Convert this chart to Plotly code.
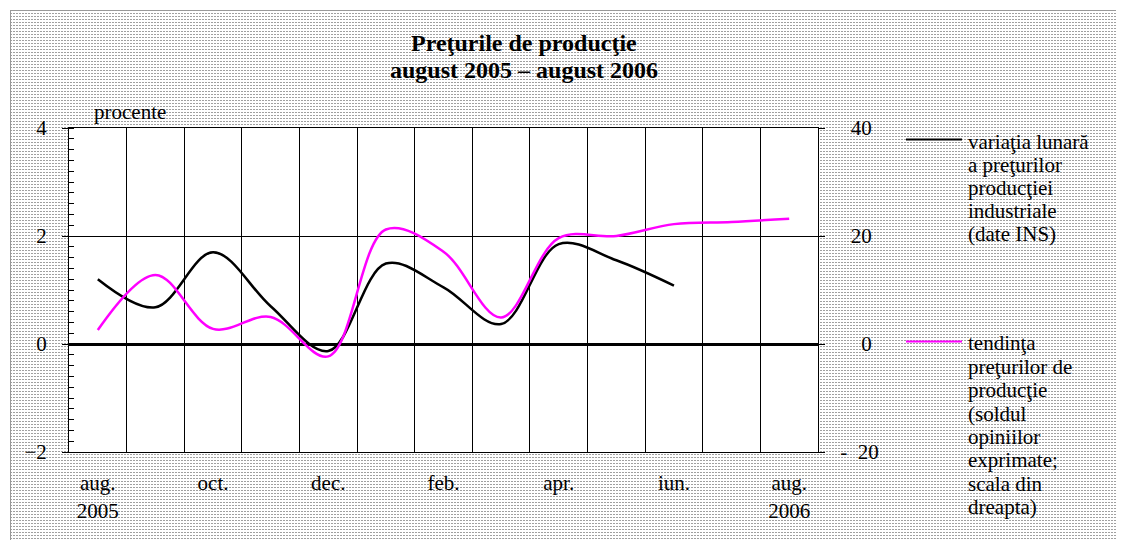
import base64
import plotly.graph_objects as go

# ---- data ----
months = ["aug.<br>2005", "", "oct.", "", "dec.", "", "feb.", "", "apr.", "", "iun.", "", "aug.<br>2006"]
x_idx = list(range(13))
variatia_lunara = [1.2, 0.68, 1.70, 0.70, -0.13, 1.49, 1.05, 0.37, 1.85, 1.55, 1.08]
tendinta = [2.6, 12.8, 2.8, 5.0, -2.3, 21.2, 17.1, 4.9, 19.6, 20.0, 22.2, 22.6, 23.2]
left_ticks = [-2, 0, 2, 4]
right_ticks = [-20, 0, 20, 40]
right_ticktext = ["-\u200720", "\u2007\u20070", "\u200720", "\u200740"]
legend1_lines = ["variaţia lunară", "a preţurilor", "producţiei", "industriale", "(date INS)"]
legend2_lines = ["tendinţa", "preţurilor de", "producţie", "(soldul", "opiniilor",
                 "exprimate;", "scala din", "dreapta)"]
title_lines = ["Preţurile de producţie", "august 2005 – august 2006"]

OFF = 8  # page body margin
W, H = 1124 - OFF, 540 - OFF
# plot area in page pixels
L, R, T, B = 69, 818, 128, 452
PW, PH = R - L, B - T
FONT = "Liberation Serif"


def px_x(p):
    return (p - L) / PW


def px_y(p):
    return (B - p) / PH


# ---- dotted background as inline svg ----
bw, bh = 1112, 535
svg = (
    f'<svg xmlns="http://www.w3.org/2000/svg" width="{bw}" height="{bh}">'
    '<defs><pattern id="p" width="3" height="3" patternUnits="userSpaceOnUse">'
    '<rect x="0" y="0" width="2" height="1" fill="#a0a0a0"/></pattern></defs>'
    '<rect width="100%" height="100%" fill="white"/>'
    '<rect width="100%" height="100%" fill="url(#p)"/>'
    f'<rect x="0.5" y="0.5" width="{bw-1}" height="{bh-1}" fill="none" stroke="#999"/>'
    '</svg>'
)
src = "data:image/svg+xml;base64," + base64.b64encode(svg.encode()).decode()

fig = go.Figure()
fig.add_trace(go.Scatter(
    x=x_idx[:len(variatia_lunara)], y=variatia_lunara, mode="lines",
    line=dict(color="black", width=2.5, shape="spline", smoothing=1.0),
    name="variaţia lunară", showlegend=False, yaxis="y"))
fig.add_trace(go.Scatter(
    x=x_idx, y=tendinta, mode="lines",
    line=dict(color="#FF00FF", width=2.5, shape="spline", smoothing=1.0),
    name="tendinţa", showlegend=False, yaxis="y2"))

annotations = []
for i, (t, py) in enumerate(zip(title_lines, [43, 70])):
    annotations.append(dict(text=f"<b>{t}</b>", x=px_x(524), y=px_y(py), xref="paper", yref="paper",
                            xanchor="center", yanchor="middle", showarrow=False,
                            font=dict(family=FONT, size=24, color="black")))
annotations.append(dict(text="procente", x=px_x(92), y=px_y(112), xref="paper", yref="paper",
                        xanchor="left", yanchor="middle", showarrow=False,
                        font=dict(family=FONT, size=21, color="black")))
for i, t in enumerate(legend1_lines):
    annotations.append(dict(text=t, x=px_x(966), y=px_y(141.5 + 23.2 * i), xref="paper", yref="paper",
                            xanchor="left", yanchor="middle", showarrow=False,
                            font=dict(family=FONT, size=21, color="black")))
for i, t in enumerate(legend2_lines):
    annotations.append(dict(text=t, x=px_x(966), y=px_y(343.3 + 23.4 * i), xref="paper", yref="paper",
                            xanchor="left", yanchor="middle", showarrow=False,
                            font=dict(family=FONT, size=21, color="black")))

shapes = [
    dict(type="rect", xref="paper", yref="paper", x0=0, x1=1, y0=0, y1=1,
         fillcolor="white", line=dict(width=0), layer="below"),
    dict(type="line", xref="paper", yref="paper", x0=px_x(906), x1=px_x(962),
         y0=px_y(139.5), y1=px_y(139.5), line=dict(color="black", width=2)),
    dict(type="line", xref="paper", yref="paper", x0=px_x(906), x1=px_x(962),
         y0=px_y(341.5), y1=px_y(341.5), line=dict(color="#FF00FF", width=2)),
]

fig.update_layout(
    width=W, height=H, autosize=False,
    margin=dict(l=L - OFF, r=W - (R - OFF), t=T - OFF, b=H - (B - OFF), pad=0),
    paper_bgcolor="white", plot_bgcolor="white",
    font=dict(family=FONT, size=21, color="black"),
    showlegend=False,
    images=[dict(source=src, xref="paper", yref="paper", x=px_x(10), y=px_y(10),
                 sizex=bw / PW, sizey=bh / PH, xanchor="left", yanchor="top",
                 sizing="stretch", layer="below")],
    shapes=shapes,
    annotations=annotations,
    xaxis=dict(range=[-0.5, 12.5], tickmode="array", tickvals=x_idx, ticktext=months,
               ticks="", showgrid=False, zeroline=False, showline=True, mirror=True,
               linecolor="black", linewidth=1, ticklabelstandoff=12,
               tickfont=dict(family=FONT, size=21, color="black"),
               minor=dict(tick0=0.5, dtick=1, showgrid=True, gridcolor="black",
                          gridwidth=1, ticks="")),
    yaxis=dict(range=[-2, 4], tickmode="array", tickvals=left_ticks,
               ticks="outside", ticklen=6, tickcolor="black", tickwidth=1,
               showgrid=True, gridcolor="black", gridwidth=1,
               zeroline=True, zerolinecolor="black", zerolinewidth=2.5,
               showline=True, mirror=True, linecolor="black", linewidth=1,
               ticklabelstandoff=11,
               tickfont=dict(family=FONT, size=21, color="black"),
               minor=dict(dtick=0.2, ticks="inside", ticklen=5, tickcolor="black",
                          tickwidth=1, showgrid=False)),
    yaxis2=dict(range=[-20, 40], overlaying="y", side="right", tickmode="array",
                tickvals=right_ticks, ticktext=right_ticktext,
                ticks="outside", ticklen=6, tickcolor="black", tickwidth=1,
                showgrid=False, zeroline=False, showline=False,
                ticklabelstandoff=11,
                tickfont=dict(family=FONT, size=21, color="black")),
)

fig.write_html("out.html")
